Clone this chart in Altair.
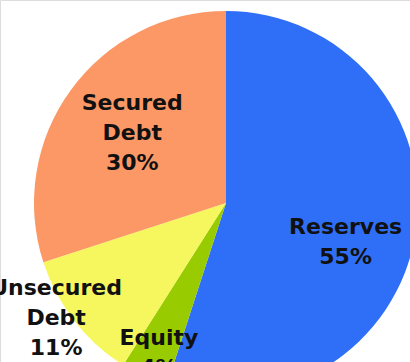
import altair as alt
import pandas as pd

# Capital structure shares, clockwise from 12 o'clock
categories = ["Reserves", "Equity", "Unsecured\nDebt", "Secured\nDebt"]
shares = [55, 4, 11, 30]
colors = ["#2f6ff8", "#99cc00", "#f6f75e", "#fc9866"]

# Label placement (anchor of each label's first line): distance from the
# centre and an angular nudge from the slice's mid-angle (degrees)
label_radius = [122, 151, 190, 137]
label_nudge = [2.3, 1.2, 11.2, 10.8]

df = pd.DataFrame({
    "category": categories,
    "share": shares,
    "order": list(range(len(categories))),
    "label_r": label_radius,
    "nudge": label_nudge,
})

CX, CY, R = 226, 203, 192

base = alt.Chart(df).encode(
    x=alt.value(CX),
    y=alt.value(CY),
)

arcs = base.mark_arc(outerRadius=R, stroke=None).encode(
    theta=alt.Theta("share:Q", stack=True),
    order=alt.Order("order:Q"),
    color=alt.Color(
        "category:N",
        scale=alt.Scale(domain=categories, range=colors),
        legend=None,
    ),
)

labels = (
    base.transform_window(
        cum="sum(share)", sort=[alt.SortField("order")]
    )
    .transform_joinaggregate(total="sum(share)")
    .transform_calculate(
        mid="(datum.cum - datum.share / 2) / datum.total * 2 * PI + datum.nudge * PI / 180",
        label="datum.category + '\\n' + datum.share + '%'",
    )
    .mark_text(
        font="DejaVu Sans",
        fontWeight="bold",
        fontSize=22,
        lineBreak="\n",
        lineHeight=30,
        align="center",
        baseline="middle",
        color="#111111",
    )
    .encode(
        theta=alt.Theta("mid:Q", scale=None),
        radius=alt.Radius("label_r:Q", scale=None),
        text="label:N",
    )
)

chart = (
    alt.layer(arcs, labels)
    .properties(
        width=410,
        height=362,
        padding=0,
        autosize=alt.AutoSizeParams(type="none"),
    )
    .configure_view(stroke=None)
    .configure(background="white")
)

chart.save("out.html", embed_options={"renderer": "svg", "actions": False})
